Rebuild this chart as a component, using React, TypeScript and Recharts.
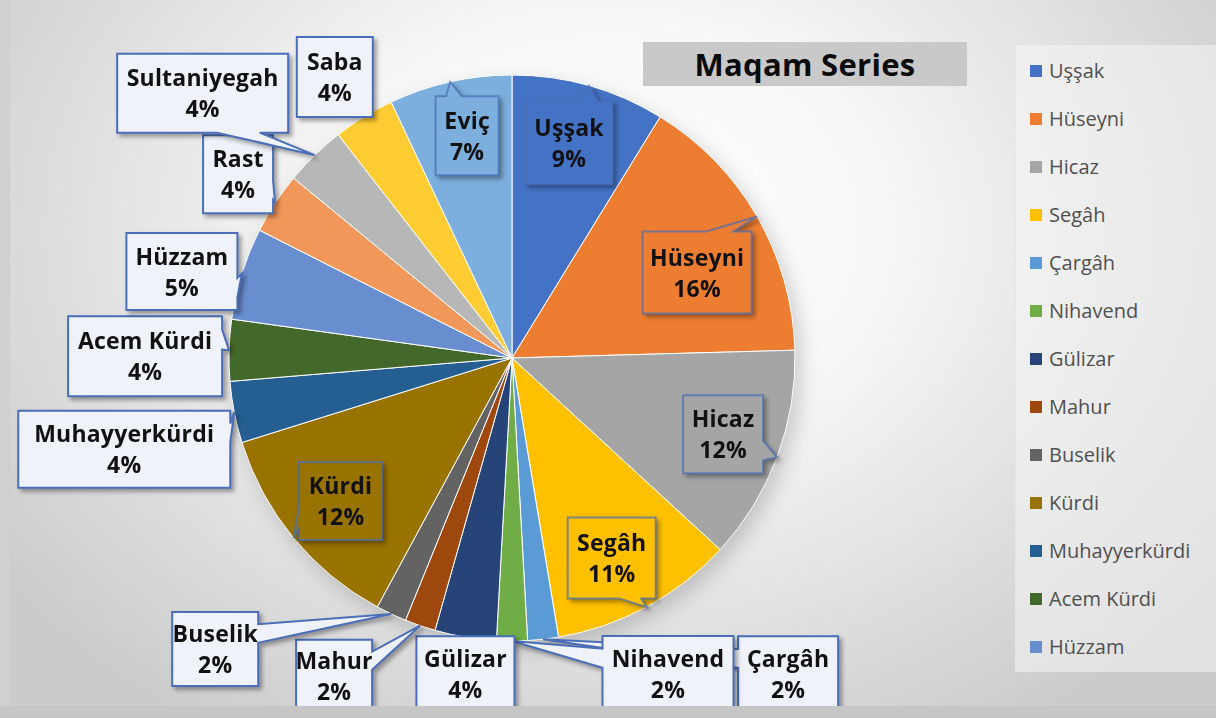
import React from 'react';
import { PieChart, Pie, Cell, Legend } from 'recharts';

// ---------- data ----------
const maqamNames = [
  'Uşşak', 'Hüseyni', 'Hicaz', 'Segâh', 'Çargâh', 'Nihavend', 'Gülizar', 'Mahur', 'Buselik',
  'Kürdi', 'Muhayyerkürdi', 'Acem Kürdi', 'Hüzzam', 'Rast', 'Sultaniyegah', 'Saba', 'Eviç',
];
const maqamCounts = [5, 9, 7, 6, 1, 1, 2, 1, 1, 7, 2, 2, 3, 2, 2, 2, 4];
const chartTitle = 'Maqam Series';
const legendShown = 13;

// ---------- layout & styles ----------
const PIE_CX = 512;
const PIE_CY = 358;
const PIE_R = 283;

const sliceColors = [
  '#4472C4', '#ED7D31', '#A5A5A5', '#FFC000', '#5B9BD5', '#70AD47', '#264478', '#9E480E', '#636363',
  '#997300', '#255E91', '#43682B', '#698ED0', '#F1975A', '#B7B7B7', '#FFCD33', '#7CAFDD',
];
const labelInside = [true, true, true, true, false, false, false, false, false, true, false, false, false, false, false, false, true];
// callout box centre, relative to the callout tip (the slice's outer edge at its mid angle)
const labelOffsets: [number, number][] = [
  [-20, 57], [-60, 56], [-54, -23], [-35, -49], [245, 35], [156, 33], [0, 37], [-86, 50], [-176, 35],
  [47, -37], [-110, 37], [-84, 6], [-60, -2], [-37, -29], [-112, -62], [-29, -40], [17, 54],
];
const labelSizes: [number, number][] = [
  [87, 83], [109, 82], [80, 78], [88, 81], [100, 76], [131, 76], [98, 76], [76, 72], [86, 74],
  [83, 78], [212, 77], [154, 80], [111, 77], [70, 78], [171, 79], [76, 80], [63, 79],
];

const data = maqamNames.map((name, i) => ({ name, value: maqamCounts[i] }));

const RAD = Math.PI / 180;

function calloutPath(bx: number, by: number, w: number, h: number, tx: number, ty: number) {
  const l = bx - w / 2, t = by - h / 2, r = bx + w / 2, b = by + h / 2;
  const dx = tx - bx, dy = ty - by;
  if (Math.abs(dx) <= w / 2 && Math.abs(dy) <= h / 2) {
    return `M${l},${t} L${r},${t} L${r},${b} L${l},${b} Z`;
  }
  const horiz = Math.abs(dx * h) > Math.abs(dy * w);
  if (!horiz) {
    const x1 = l + (w * (dx > 0 ? 7 : 2)) / 12;
    const x2 = l + (w * (dx > 0 ? 10 : 5)) / 12;
    if (dy < 0) return `M${l},${t} L${x1},${t} L${tx},${ty} L${x2},${t} L${r},${t} L${r},${b} L${l},${b} Z`;
    return `M${l},${t} L${r},${t} L${r},${b} L${x2},${b} L${tx},${ty} L${x1},${b} L${l},${b} Z`;
  }
  const y1 = t + (h * (dy > 0 ? 7 : 2)) / 12;
  const y2 = t + (h * (dy > 0 ? 10 : 5)) / 12;
  if (dx > 0) return `M${l},${t} L${r},${t} L${r},${y1} L${tx},${ty} L${r},${y2} L${r},${b} L${l},${b} Z`;
  return `M${l},${t} L${r},${t} L${r},${b} L${l},${b} L${l},${y2} L${tx},${ty} L${l},${y1} Z`;
}

const renderCallout = (props: any) => {
  const { cx, cy, midAngle, outerRadius, percent } = props;
  let index = props.index;
  if (index === undefined) index = maqamNames.indexOf(props.name);
  const tx = cx + outerRadius * Math.cos(-midAngle * RAD);
  const ty = cy + outerRadius * Math.sin(-midAngle * RAD);
  const [ox, oy] = labelOffsets[index];
  const [w, h] = labelSizes[index];
  const bx = tx + ox, by = ty + oy;
  const inside = labelInside[index];
  const fill = inside ? sliceColors[index] : '#eff2f8';
  const pct = `${Math.round(percent * 100)}%`;
  return (
    <g key={`callout-${index}`} style={{ filter: 'drop-shadow(3px 3px 2px rgba(0,0,0,0.35))' }}>
      <path d={calloutPath(bx, by, w, h, tx, ty)} fill={fill} stroke="#4a6fb8" strokeOpacity={inside ? 0.7 : 1} strokeWidth={2} strokeLinejoin="miter" />
      <text x={bx} y={by - 7} textAnchor="middle" fontFamily="'Open Sans', sans-serif" fontWeight={700} fontSize={23} letterSpacing={0.2} fill="#111111">
        {maqamNames[index]}
      </text>
      <text x={bx} y={by + 24} textAnchor="middle" fontFamily="'Open Sans', sans-serif" fontWeight={700} fontSize={23} letterSpacing={0.2} fill="#111111">
        {pct}
      </text>
    </g>
  );
};

const renderLegend = () => {
  const items = maqamNames.slice(0, legendShown);
  return (
    <div style={{ width: 201, height: 627, background: 'rgba(246,246,246,0.55)', borderLeft: '1px solid #e6e6e6', boxSizing: 'border-box', paddingTop: 2 }}>
      {items.map((name, i) => (
        <div key={name} style={{ display: 'flex', alignItems: 'center', height: 48, paddingLeft: 14 }}>
          <span style={{ display: 'inline-block', width: 12, height: 12, background: sliceColors[i], marginRight: 7 }} />
          <span style={{ fontFamily: "'Open Sans', sans-serif", fontSize: 20, color: '#505050', lineHeight: '24px' }}>{name}</span>
        </div>
      ))}
    </div>
  );
};

export default function App() {
  return (
    <div
      style={{
        position: 'absolute', left: 0, top: 0, width: 1216, height: 718, overflow: 'hidden',
        background: 'radial-gradient(ellipse 62% 82% at 50% 32%, #ffffff 0%, #f8f8f8 35%, #e0e0e0 70%, #cbcbcb 100%)',
      }}
    >
      {/* soft shadow under the pie, sized from the pie geometry */}
      <div
        style={{
          position: 'absolute', left: PIE_CX - PIE_R + 6, top: PIE_CY - PIE_R + 8, width: PIE_R * 2, height: PIE_R * 2,
          borderRadius: '50%', background: 'rgba(0,0,0,0.18)', filter: 'blur(10px)',
        }}
      />
      <div
        style={{
          position: 'absolute', left: 643, top: 42, width: 324, height: 44, background: '#c9c9c9',
          display: 'flex', alignItems: 'center', justifyContent: 'center', zIndex: 2,
          fontFamily: "'Open Sans', sans-serif", fontWeight: 700, fontSize: 31, color: '#0a0a0a', letterSpacing: 0.3,
        }}
      >
        {chartTitle}
      </div>
      <div style={{ position: 'absolute', left: 0, top: 0 }}>
        <PieChart width={1216} height={718} margin={{ top: 0, right: 0, bottom: 0, left: 0 }}>
          <Pie
            data={data}
            dataKey="value"
            nameKey="name"
            cx={PIE_CX}
            cy={PIE_CY}
            outerRadius={PIE_R}
            startAngle={90}
            endAngle={-270}
            stroke="#ffffff"
            strokeWidth={1}
            label={renderCallout}
            labelLine={false}
            isAnimationActive={false}
          >
            {data.map((d, i) => (
              <Cell key={d.name} fill={sliceColors[i]} />
            ))}
          </Pie>
          <Legend
            layout="vertical"
            align="right"
            verticalAlign="top"
            content={renderLegend}
            wrapperStyle={{ left: 1015, top: 45, right: 'auto', width: 201, height: 627 }}
          />
        </PieChart>
      </div>
      <div style={{ position: 'absolute', left: 0, top: 706, width: 1216, height: 12, background: '#c6c6c6', zIndex: 3 }} />
      <div style={{ position: 'absolute', left: 0, top: 0, width: 10, height: 706, background: '#d0d0d0', zIndex: 3 }} />
    </div>
  );
}
